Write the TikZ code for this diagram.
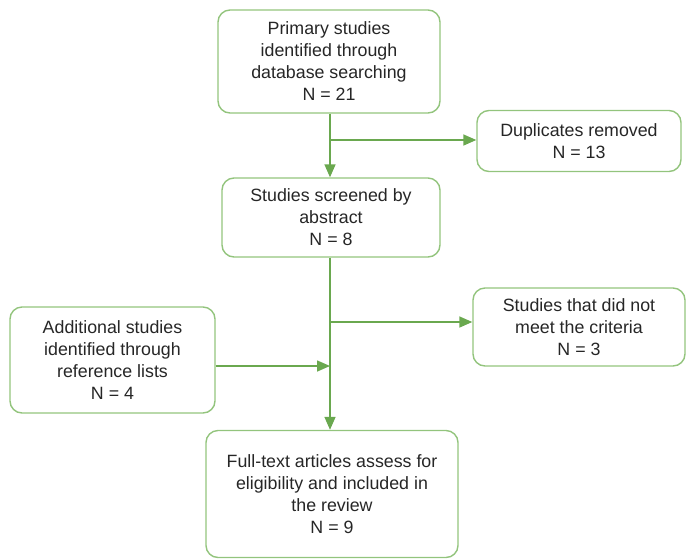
\documentclass[tikz,border=0pt]{standalone}
\usepackage{fontspec}
\setmainfont{Liberation Sans}
\usepackage{xcolor}
\usetikzlibrary{arrows.meta, positioning}
\definecolor{boxgreen}{HTML}{93C47D}
\definecolor{linegreen}{HTML}{6AA84F}

\begin{document}
\begin{tikzpicture}[x=1pt, y=-1pt, >={Triangle[length=13pt,width=11pt]},
    stage/.style={draw=boxgreen, line width=1.4pt, rounded corners=12pt,
        align=center, inner sep=4pt,
        font=\fontsize{17.8}{22}\selectfont, text=black!85},
    link/.style={draw=linegreen, line width=1.6pt}]
    \useasboundingbox (0,0) rectangle (686,558);

    % Boxes
    \node[stage, minimum width=222pt, minimum height=103pt] (prim) at (329,61.5)
        {Primary studies\\identified through\\database searching\\N = 21};
    \node[stage, minimum width=204pt, minimum height=61pt] (dup) at (579,141)
        {Duplicates removed\\N = 13};
    \node[stage, minimum width=218pt, minimum height=79pt] (screen) at (331,217.5)
        {Studies screened by\\abstract\\N = 8};
    \node[stage, minimum width=212pt, minimum height=78pt] (crit) at (579,327)
        {Studies that did not\\meet the criteria\\N = 3};
    \node[stage, minimum width=205pt, minimum height=106pt] (add) at (112.5,360)
        {Additional studies\\identified through\\reference lists\\N = 4};
    \node[stage, minimum width=252pt, minimum height=127pt] (full) at (332,494)
        {Full-text articles assess for\\eligibility and included in\\the review\\N = 9};

    % Junctions
    \coordinate (j1) at (330,140);
    \coordinate (j2) at (330,322);
    \coordinate (j3) at (330,366);

    % Connectors
    \draw[link, ->] (prim.south -| j1) -- (screen.north -| j1);
    \draw[link, ->] (j1) -- (dup.west |- j1);
    \draw[link, ->] (screen.south -| j2) -- (full.north -| j2);
    \draw[link, ->] (j2) -- (crit.west |- j2);
    \draw[link, ->] (add.east |- j3) -- (j3);
\end{tikzpicture}
\end{document}
